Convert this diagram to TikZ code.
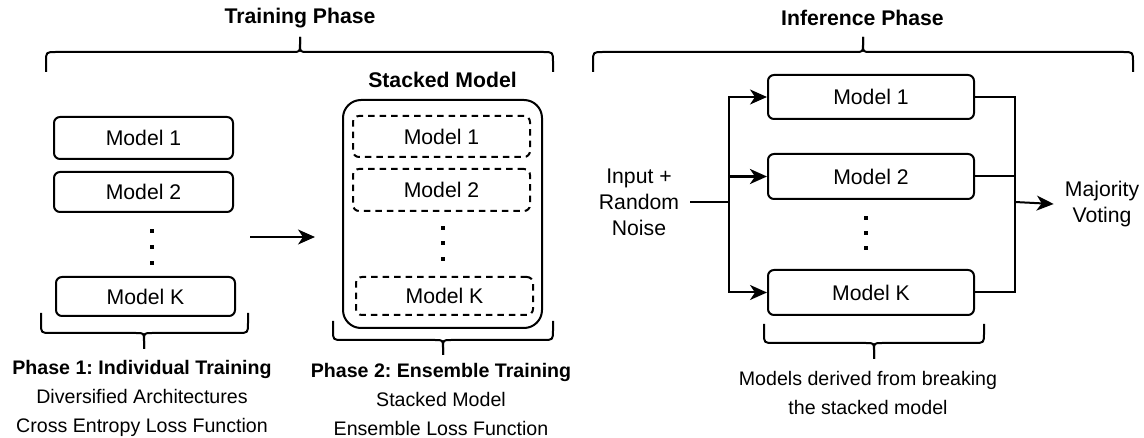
\documentclass[tikz,border=0pt]{standalone}
\usepackage{fontspec}
\setmainfont{Liberation Sans}
\usetikzlibrary{arrows.meta}
\frenchspacing
% #1 x1, #2 x2, #3 xc, #4 yend, #5 yflat, #6 ytip, #7 signed radius (+ if ends lie beyond flat in +y)
\newcommand{\MyBrace}[7]{%
  \draw[brc] ({#1},{#4}) -- ({#1},{#5+#7}) .. controls ({#1},{#5}) .. ({#1+abs(#7)},{#5})
     -- ({#3-8},{#5}) .. controls ({#3},{#5}) .. ({#3},{#5-0.8*#7}) -- ({#3},{#6});
  \draw[brc] ({#2},{#4}) -- ({#2},{#5+#7}) .. controls ({#2},{#5}) .. ({#2-abs(#7)},{#5})
     -- ({#3+8},{#5}) .. controls ({#3},{#5}) .. ({#3},{#5-0.8*#7}) -- ({#3},{#6});
}
\begin{document}
\begin{tikzpicture}[x=1pt,y=-1pt,
  lw/.style={line width=2pt},
  lbl/.style={font=\fontsize{21.2}{26}\selectfont, inner sep=0pt, align=center},
  captxt/.style={font=\fontsize{19.6}{29}\selectfont, inner sep=0pt, align=center},
  ttl/.style={font=\fontsize{21.2}{26}\selectfont\bfseries, inner sep=0pt},
  mbox/.style={draw, lw, rounded corners=6pt, inner sep=0pt, font=\fontsize{21.2}{26}\selectfont},
  dbox/.style={mbox, dash pattern=on 6.5pt off 5pt},
  dotsq/.style={fill=black, minimum size=4pt, inner sep=0pt},
  brc/.style={lw, line join=round},
  arr/.style={lw, -{Stealth[length=17pt,width=15pt,inset=5pt]}},
  conn/.style={lw}
]
\useasboundingbox (0,0) rectangle (1144,438);

% ---------- Training phase ----------
\node[ttl] (ttrain) at (300,18) {Training Phase};
\MyBrace{46}{553}{300}{72}{52}{37}{10}

% Phase 1 models
\node[mbox, minimum width=179pt, minimum height=42pt] (m1) at (143.5,138) {Model 1};
\node[mbox, minimum width=179pt, minimum height=40pt] (m2) at (143.5,192) {Model 2};
\node[mbox, minimum width=179pt, minimum height=39pt] (mK) at (145.5,296.5) {Model K};
\node[dotsq] (md1) at (152,231) {};
\node[dotsq] (md2) at (152,247) {};
\node[dotsq] (md3) at (152,263) {};
\MyBrace{41}{248}{144}{313}{333}{349}{-10}
\node[captxt] (p1) at (142,398.5) {\textbf{Phase 1: Individual Training}\\Diversified Architectures\\Cross Entropy Loss Function};

% arrow between phases
\coordinate (ta) at (250,237);
\coordinate (tb) at (315,237);
\draw[arr] (ta) -- (tb);

% Stacked model
\node[ttl] (stitle) at (442.5,80) {Stacked Model};
\node[draw, lw, rounded corners=18pt, minimum width=199pt, minimum height=228pt, inner sep=0pt] (stack) at (442.5,214) {};
\node[dbox, minimum width=177pt, minimum height=41pt] (s1) at (441.5,136.5) {Model 1};
\node[dbox, minimum width=177pt, minimum height=42pt] (s2) at (441.5,190) {Model 2};
\node[dbox, minimum width=177pt, minimum height=38pt] (sK) at (444.5,296) {Model K};
\node[dotsq] (sd1) at (443,228) {};
\node[dotsq] (sd2) at (443,243) {};
\node[dotsq] (sd3) at (443,259) {};
\MyBrace{333}{553}{443}{321}{340}{355}{-10}
\node[captxt] (p2) at (441,399.5) {\textbf{Phase 2: Ensemble Training}\\Stacked Model\\Ensemble Loss Function};

% ---------- Inference phase ----------
\node[ttl] (tinf) at (862.5,18) {Inference Phase};
\MyBrace{593}{1133}{863}{72}{52}{37}{10}

\node[lbl, inner xsep=11pt] (in) at (639,202) {Input +\\Random\\Noise};
\node[mbox, minimum width=206pt, minimum height=44pt] (i1) at (871,97) {Model 1};
\node[mbox, minimum width=206pt, minimum height=45pt] (i2) at (871,176.5) {Model 2};
\node[mbox, minimum width=206pt, minimum height=45pt] (iK) at (871,292.5) {Model K};
\node[dotsq] (id1) at (866,218) {};
\node[dotsq] (id2) at (866,233) {};
\node[dotsq] (id3) at (866,248) {};
\node[lbl, inner xsep=11pt] (maj) at (1102,204) {Majority\\Voting};

\coordinate (jin) at (729,202);
\coordinate (jout) at (1015,202);
\draw[conn] (in.east) -- (jin);
\draw[arr] (jin) |- (i1.west);
\draw[arr, line width=2.8pt] (jin) |- (i2.west);
\draw[arr] (jin) |- (iK.west);
\draw[conn] (i1.east) -| (jout);
\draw[conn] (i2.east) -| (jout);
\draw[conn] (iK.east) -| (jout);
\draw[arr] (jout) -- (maj.west);

\MyBrace{764}{984}{874}{324}{343}{359}{-10}
\node[captxt] (pinf) at (868,392.5) {Models derived from breaking\\the stacked model};
\end{tikzpicture}
\end{document}
